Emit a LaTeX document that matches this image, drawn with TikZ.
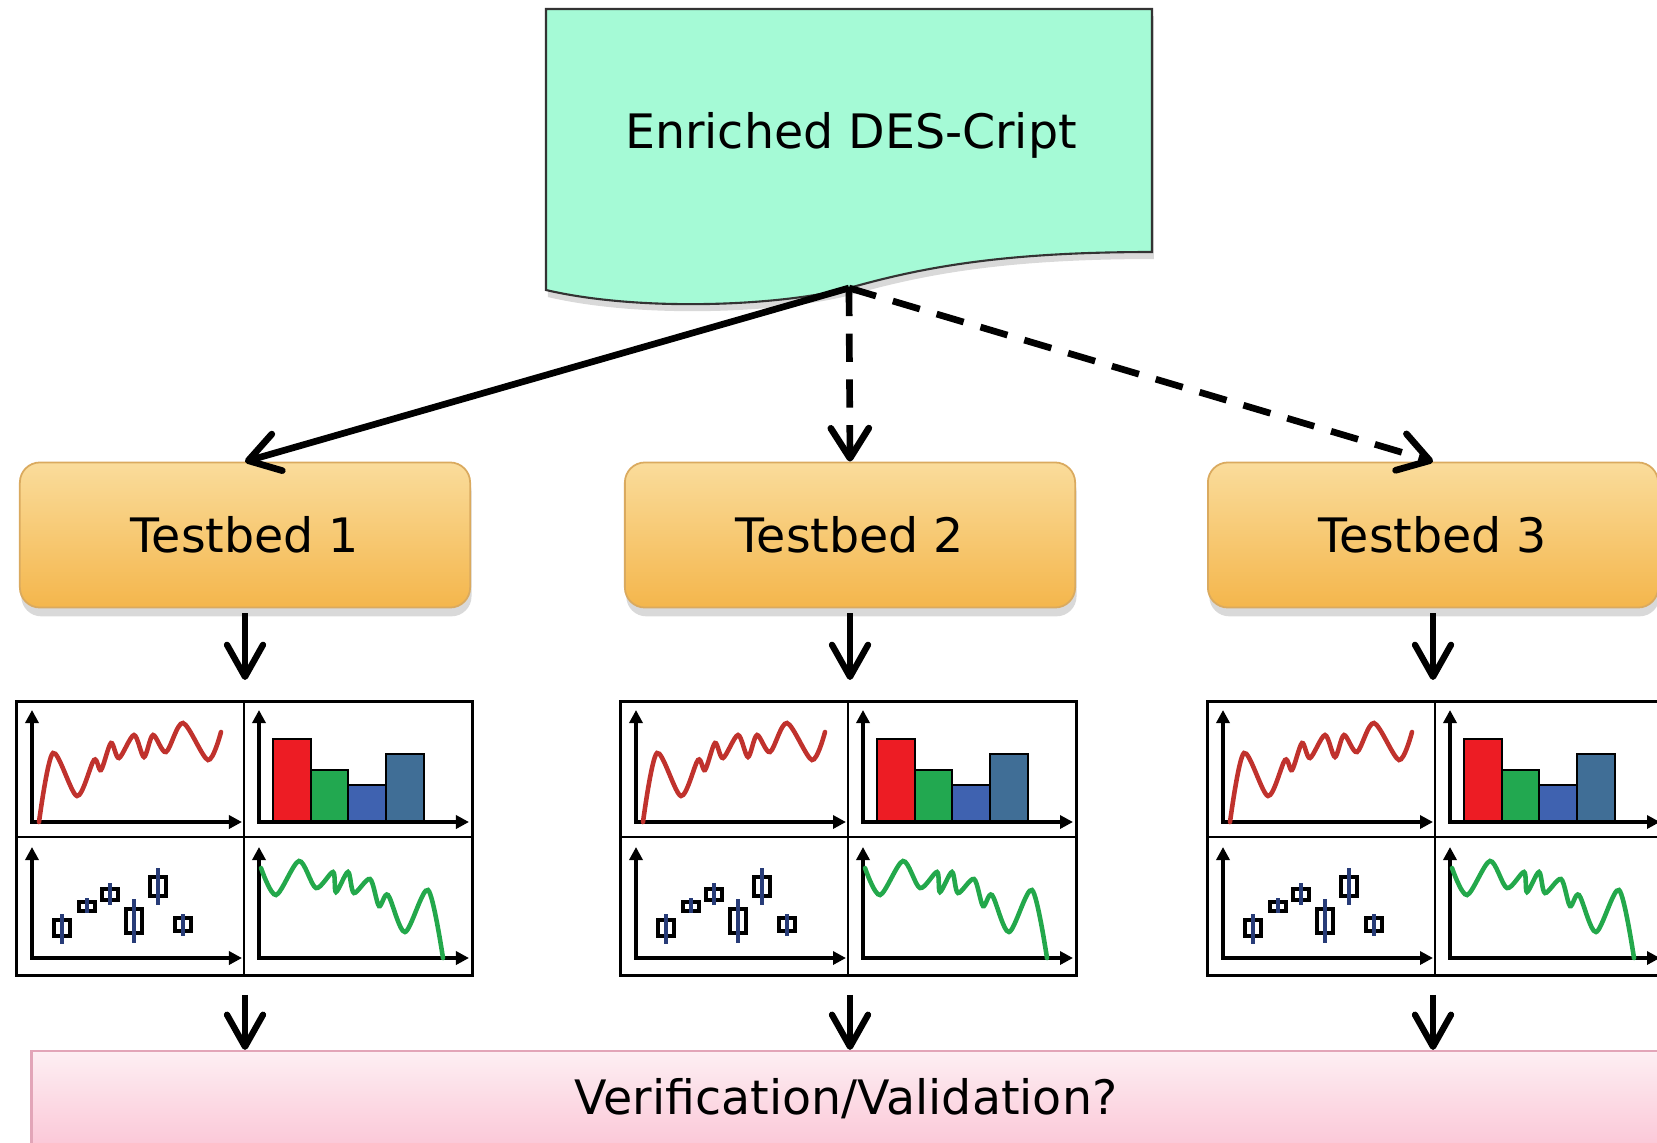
\documentclass[tikz,border=0pt]{standalone}
\usepackage{fontspec}
\setmainfont{DejaVu Sans}
\usetikzlibrary{arrows.meta,shadows,positioning}
\definecolor{docfill}{RGB}{165,250,214}
\definecolor{tbtop}{RGB}{250,220,155}
\definecolor{tbbot}{RGB}{244,182,76}
\definecolor{tbedge}{RGB}{218,170,95}
\definecolor{vertop}{RGB}{253,239,243}
\definecolor{verbot}{RGB}{251,199,215}
\definecolor{veredge}{RGB}{226,165,184}
\definecolor{wavered}{RGB}{192,50,45}
\definecolor{wavegreen}{RGB}{35,168,75}
\definecolor{barred}{RGB}{237,28,36}
\definecolor{bargreen}{RGB}{34,168,80}
\definecolor{barblue}{RGB}{63,98,176}
\definecolor{barsteel}{RGB}{64,110,150}
\definecolor{whisk}{RGB}{40,60,120}
\tikzset{
  testbed/.style={rounded corners=0.2cm, draw=tbedge, line width=0.5pt,
    top color=tbtop, bottom color=tbbot, minimum width=4.5cm, minimum height=1.45cm,
    font=\fontsize{13.5}{16}\selectfont,
    drop shadow={opacity=0.3, shadow xshift=0.4pt, shadow yshift=-2.5pt}},
  verbox/.style={draw=veredge, line width=0.6pt, top color=vertop, bottom color=verbot,
    minimum width=16.28cm, minimum height=0.96cm, font=\fontsize{13.5}{16}\selectfont},
  gridbox/.style={draw, line width=0.75pt, minimum width=4.56cm, minimum height=2.74cm, inner sep=0pt},
  flow/.style={line width=1.9pt, -{Straight Barb[length=0.3cm,width=0.38cm,round]}},
  dashflow/.style={flow, dash pattern=on 8pt off 5pt},
  downflow/.style={line width=1.8pt, -{Straight Barb[length=0.32cm,width=0.36cm,round]}},
  axes/.style={line width=1.05pt, {Triangle[length=0.13cm,width=0.13cm]}-{Triangle[length=0.13cm,width=0.13cm]}},
  wave/.style={line width=1.3pt, line cap=round}
}
\begin{document}
\begin{tikzpicture}[x=0.01cm, y=-0.01cm]
\useasboundingbox (0,0) rectangle (1657,1142);
% document shape
\draw[fill=docfill, draw=black!80, line width=0.6pt, drop shadow={opacity=0.3, shadow xshift=0.5pt, shadow yshift=-2pt}]
  (546,9) -- (1152,9) -- (1152,252)
  .. controls (1000,252) and (920,268) .. (849,288)
  .. controls (780,306) and (640,312) .. (546,290) -- cycle;
\coordinate (doctip) at (849,288);
\node (doctext) at (851,135) {\fontsize{13.5}{16}\selectfont Enriched DES-Cript};
% testbeds
\foreach \i/\x in {1/245,2/850,3/1433} {
  \node[testbed] (tb\i) at (\x,535) {Testbed \i};
}
\draw[flow] (doctip) -- (tb1.north);
\draw[dashflow] (doctip) -- (tb2.north);
\draw[dashflow] (doctip) -- (tb3.north);
% verification
\node[verbox] (ver) at (846,1099) {Verification/Validation?};
% result charts
\foreach \i/\gx in {1/15,2/619,3/1206} {
  \node[gridbox, anchor=north west] (g\i) at (\gx,700) {};
  \begin{scope}[shift={(\gx,700)}]
    \draw[line width=0.75pt] (229,0) -- (229,274) (0,137) -- (456,137);
    % line chart
    \draw[axes] (17,10) -- (17,122) -- (227,122);
    \draw[wave, wavered] plot[smooth] coordinates {(24,122) (38,53) (62,96) (79,60) (86,70) (96,43) (104,58)
      (119,35) (129,57) (138,35) (151,52) (168,23) (193,60) (206,32)};
    % bar chart
    \begin{scope}[shift={(229,0)}]
      \foreach \bx/\bw/\bt/\bc in {29/38/39/barred,67/37/70/bargreen,104/38/85/barblue,142/38/54/barsteel} {
        \filldraw[fill=\bc, line width=0.8pt] (\bx,122) rectangle (\bx+\bw,\bt);
      }
      \draw[axes] (15,10) -- (15,122) -- (225,122);
    \end{scope}
    % candles
    \begin{scope}[shift={(0,137)}]
      \draw[axes] (17,10) -- (17,121) -- (227,121);
      \foreach \cx/\ya/\yb/\wa/\wb in {47/83/99/77/107,72/65/74/61/76,95/52/63/46/68,
          119/72/96/62/106,143/40/59/31/68,168/81/94/77/99} {
        \draw[line width=0.95pt] (\cx-8,\ya) rectangle (\cx+8,\yb);
        \draw[whisk, line width=1pt] (\cx,\wa) -- (\cx,\wb);
      }
    \end{scope}
    % falling wave
    \begin{scope}[shift={(229,137)}]
      \draw[axes] (15,10) -- (15,121) -- (225,121);
      \draw[wave, wavegreen] plot[smooth] coordinates {(17,31) (32,58) (55,24) (72,51) (89,35) (92,55) (104,35)
        (110,56) (126,42) (135,69) (144,58) (161,95) (184,53) (199,121)};
    \end{scope}
  \end{scope}
  \draw[downflow, shorten <=0.05cm, shorten >=0.2cm] (tb\i.south) -- (tb\i.south |- g\i.north);
  \draw[downflow, shorten <=0.18cm] (tb\i.south |- g\i.south) -- (tb\i.south |- ver.north);
}
\end{tikzpicture}
\end{document}
